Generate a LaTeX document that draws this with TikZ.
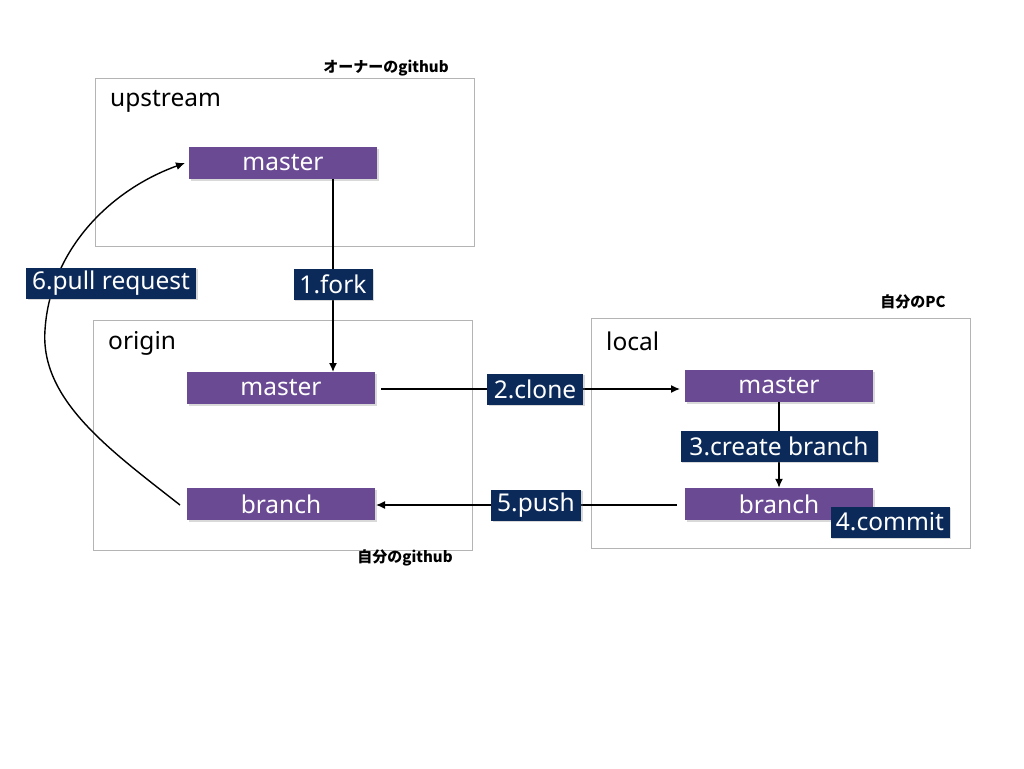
\documentclass[tikz,border=0pt]{standalone}
\usepackage{fontspec}
\setmainfont{Noto Sans}
\newfontfamily\cjkfont{Noto Sans CJK JP}
\usetikzlibrary{arrows.meta,shadows}
\definecolor{branchpurple}{HTML}{6B4A94}
\definecolor{stepnavy}{HTML}{0B2A5A}
\definecolor{framegray}{HTML}{B4B4B4}
\begin{document}
\begin{tikzpicture}[x=1pt,y=-1pt,
  frame/.style={draw=framegray,line width=0.9pt},
  refbox/.style={fill=branchpurple,minimum width=188pt,minimum height=32pt,inner sep=0pt,
     text=white,font=\fontsize{24.5}{24.5}\selectfont,drop shadow={shadow xshift=1.5pt,shadow yshift=-1.5pt,opacity=0.3}},
  steplabel/.style={fill=stepnavy,text=white,inner sep=0pt,minimum height=31pt,
     font=\fontsize{24.5}{24.5}\selectfont,drop shadow={shadow xshift=1.5pt,shadow yshift=-1.5pt,opacity=0.3}},
  areatitle/.style={anchor=west,inner sep=0pt,font=\fontsize{24.5}{24.5}\selectfont},
  owner/.style={inner sep=0pt,font=\cjkfont\fontsize{15}{15}\selectfont\bfseries},
  conn/.style={line width=1.4pt,-{Latex[length=9pt,width=8pt]}}
]
\useasboundingbox (0,0) rectangle (1024,768);
% frames
\draw[frame] (95,78) rectangle (474,246);
\draw[frame] (93,320) rectangle (472,550);
\draw[frame] (591,318) rectangle (970,548);
\node[owner] (ownerlbl) at (386,68) {オーナーのgithub};
\node[owner] (mylbl) at (405,558) {自分のgithub};
\node[owner] (pclbl) at (913,302) {自分のPC};
\node[areatitle] (upt) at (110,101) {upstream};
\node[areatitle] (ort) at (108,343) {origin};
\node[areatitle] (lot) at (606,341) {local};
% refs
\node[refbox] (umaster) at (283,163) {master};
\node[refbox] (omaster) at (281,388) {master};
\node[refbox] (obranch) at (281,504) {branch};
\node[refbox] (lmaster) at (779,386) {master};
\node[refbox] (lbranch) at (779,504) {branch};
% connectors
\coordinate (forkstart) at (333,179);
\coordinate (forkend) at (333,372);
\draw[conn] (forkstart) -- (forkend);
\coordinate (clonestart) at (381,389);
\coordinate (cloneend) at (680,389);
\draw[conn] (clonestart) -- (cloneend);
\draw[conn] (lmaster.south) -- (lbranch.north);
\coordinate (pushstart) at (677,505);
\coordinate (pushend) at (376,505);
\draw[conn] (pushstart) -- (pushend);
\coordinate (prstart) at (180,505);
\coordinate (prmid) at (45,330);
\coordinate (prend) at (185,163);
\draw[conn] (prstart) .. controls (110,450) and (40,400) .. (prmid)
   .. controls (50,250) and (110,190) .. (prend);
% step labels
\node[steplabel,minimum width=79pt] (s1) at (333,284) {1.fork};
\node[steplabel,minimum width=96pt] (s2) at (535,389) {2.clone};
\node[steplabel,minimum width=197pt] (s3) at (779,446) {3.create branch};
\node[steplabel,minimum width=119pt] (s4) at (890,522) {4.commit};
\node[steplabel,minimum width=90pt] (s5) at (536,505) {5.push};
\node[steplabel,minimum width=170pt] (s6) at (111,283) {6.pull request};
\end{tikzpicture}
\end{document}
